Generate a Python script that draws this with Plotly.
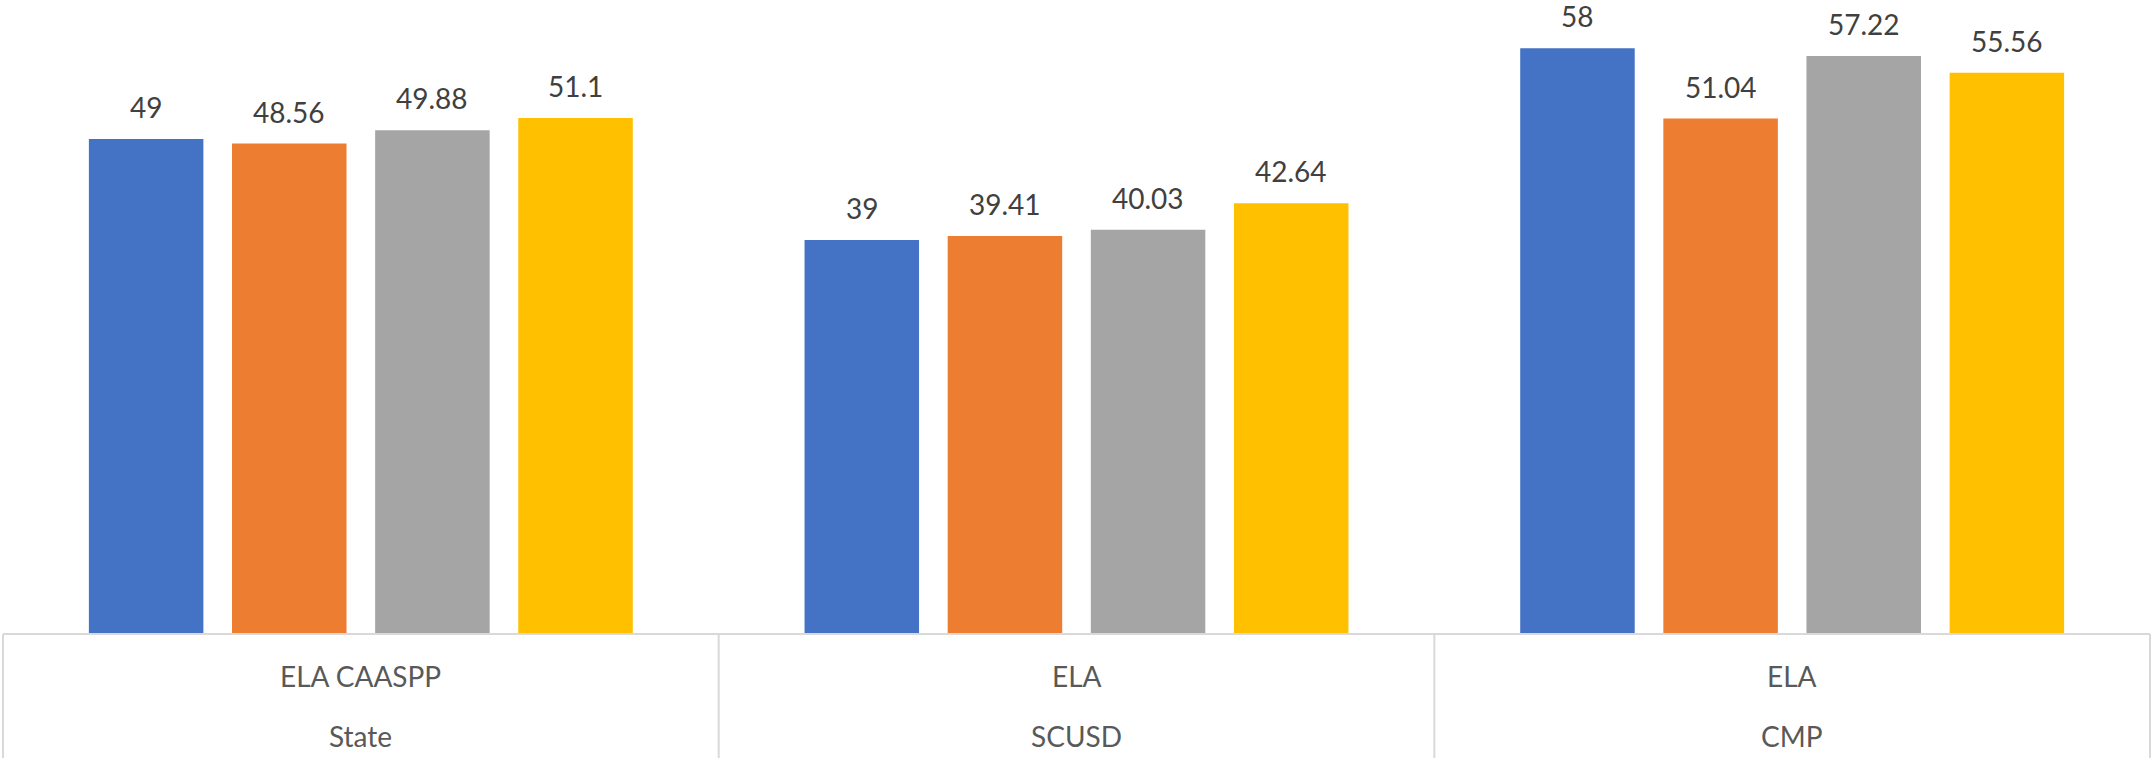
import plotly.graph_objects as go

groups = ["State", "SCUSD", "CMP"]
subjects = ["ELA CAASPP", "ELA", "ELA"]
series_names = ["Series 1", "Series 2", "Series 3", "Series 4"]
series_values = [
    [49, 39, 58],
    [48.56, 39.41, 51.04],
    [49.88, 40.03, 57.22],
    [51.1, 42.64, 55.56],
]
colors = ["#4472C4", "#ED7D31", "#A5A5A5", "#FFC000"]

FONT = "Lato, 'Open Sans', sans-serif"
x_pos = list(range(len(groups)))
BARGAP = 0.2
slot = (1 - BARGAP) / len(series_names)

fig = go.Figure()
for name, vals, col in zip(series_names, series_values, colors):
    fig.add_trace(go.Bar(x=x_pos, y=vals, name=name, marker=dict(color=col, line=dict(width=0)),
                         hoverinfo="y"))

annotations = []
for i, vals in enumerate(series_values):
    for g, v in enumerate(vals):
        annotations.append(dict(
            x=g + (i - (len(series_names) - 1) / 2) * slot, y=v, xref="x", yref="y",
            text=f"{v:g}", showarrow=False, yanchor="bottom", xanchor="center", yshift=13,
            font=dict(family=FONT, size=28, color="#404040")))

for g, (grp, sub) in enumerate(zip(groups, subjects)):
    annotations.append(dict(x=g, y=0, xref="x", yref="paper", text=sub, showarrow=False,
                            yanchor="middle", yshift=-42,
                            font=dict(family=FONT, size=28, color="#595959")))
    annotations.append(dict(x=g, y=0, xref="x", yref="paper", text=grp, showarrow=False,
                            yanchor="middle", yshift=-102,
                            font=dict(family=FONT, size=28, color="#595959")))

plot_h = 758 - 28 - 124
bottom = -124 / plot_h
shapes = [dict(type="line", xref="paper", yref="paper", x0=0, x1=1, y0=0, y1=0,
               line=dict(color="#D9D9D9", width=2))]
for k in range(len(groups) + 1):
    xp = k / len(groups)
    shapes.append(dict(type="line", xref="paper", yref="paper", x0=xp, x1=xp, y0=0, y1=bottom - 0.01,
                       line=dict(color="#D9D9D9", width=2)))

fig.update_layout(
    width=2153, height=758,
    margin=dict(l=3, r=3, t=28, b=124),
    paper_bgcolor="white", plot_bgcolor="white",
    barmode="group", bargap=BARGAP, bargroupgap=0.2,
    showlegend=False,
    xaxis=dict(range=[-0.5, len(groups) - 0.5], showticklabels=False, showgrid=False,
               zeroline=False, showline=False, ticks="", fixedrange=True),
    yaxis=dict(range=[0, 60], showticklabels=False, showgrid=False, zeroline=False,
               showline=False, ticks="", fixedrange=True),
    annotations=annotations,
    shapes=shapes,
    font=dict(family=FONT),
)

fig.write_html("out.html", config={"displayModeBar": False},
               post_script="document.body.style.margin='0px';document.body.style.overflow='hidden';")
